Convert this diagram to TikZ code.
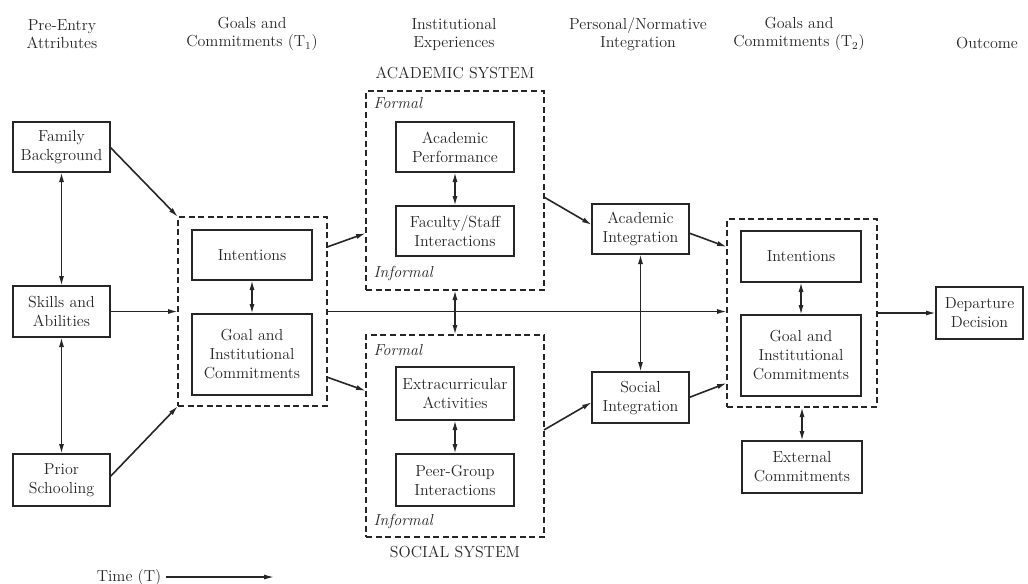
\documentclass[tikz,border=0pt]{standalone}
\usetikzlibrary{arrows.meta,calc}
\definecolor{ink}{HTML}{262626}
\begin{document}
\begin{tikzpicture}[x=0.75pt,y=-0.75pt,
  every node/.style={font=\fontsize{12}{14.25}\selectfont, text=ink},
  bx/.style 2 args={draw=ink, line width=1.3pt, rectangle, inner sep=0pt, outer sep=0pt, align=center, minimum width=#1*0.75pt, minimum height=#2*0.75pt},
  dbx/.style 2 args={bx={#1}{#2}, line width=1.2pt, dash pattern=on 4.5pt off 2.7pt},
  arr/.style={draw=ink, line width=1.2pt, -{Latex[length=7.5pt,width=3.8pt]}},
  darr/.style={draw=ink, line width=1.2pt, {Latex[length=7.5pt,width=3.8pt]}-{Latex[length=7.5pt,width=3.8pt]}},
  hdr/.style={align=center, font=\fontsize{12}{13.5}\selectfont},
  lbl/.style={anchor=west, font=\fontsize{12}{14}\selectfont\itshape},
  sys/.style={font=\fontsize{12}{14}\selectfont}]
\useasboundingbox (0,0) rectangle (1028,583);

% headers
\node[hdr] (h1) at (62,34) {Pre-Entry\\Attributes};
\node[hdr] (h2) at (252,34) {Goals and\\Commitments (T$_1$)};
\node[hdr] (h3) at (454,34) {Institutional\\Experiences};
\node[hdr] (h4) at (638,34) {Personal/Normative\\Integration};
\node[hdr] (h5) at (799,34) {Goals and\\Commitments (T$_2$)};
\node[hdr] (h6) at (987,43) {Outcome};

% pre-entry
\node[bx={97}{50}] (fam) at (61.5,147) {Family\\Background};
\node[bx={97}{51}] (skl) at (61.5,311.5) {Skills and\\Abilities};
\node[bx={97}{52}] (pri) at (61.5,480) {Prior\\Schooling};

% T1
\node[dbx={149}{189}] (t1) at (252.5,311.5) {};
\node[bx={120}{50}] (t1i) at (252,255) {Intentions};
\node[bx={120}{81}] (t1g) at (252,354.5) {Goal and\\Institutional\\Commitments};

% academic system
\node[sys] (acl) at (455,73) {ACADEMIC SYSTEM};
\node[dbx={178}{199}] (acs) at (455,190.5) {};
\node[lbl] (af) at (369,103) {Formal};
\node[lbl] (ainf) at (369,273) {Informal};
\node[bx={118}{50}] (ap) at (455,147) {Academic\\Performance};
\node[bx={118}{50}] (fs) at (455,231) {Faculty/Staff\\Interactions};

% social system
\node[dbx={178}{202}] (sos) at (455,436) {};
\node[lbl] (sf) at (369,350) {Formal};
\node[lbl] (sinf) at (369,521) {Informal};
\node[bx={118}{53}] (ex) at (455,393.5) {Extracurricular\\Activities};
\node[bx={118}{52}] (pg) at (455,480) {Peer-Group\\Interactions};
\node[sys] (scl) at (455,552) {SOCIAL SYSTEM};

% integration
\node[bx={97}{50}] (ai) at (640.5,229) {Academic\\Integration};
\node[bx={97}{51}] (si) at (640.5,397.5) {Social\\Integration};

% T2
\node[dbx={150}{188}] (t2) at (802,313) {};
\node[bx={120}{51}] (t2i) at (801,256.5) {Intentions};
\node[bx={120}{81}] (t2g) at (801,355.5) {Goal and\\Institutional\\Commitments};
\node[bx={120}{52}] (ext) at (802,467) {External\\Commitments};

% outcome
\node[bx={87}{52}] (dep) at (979.5,313) {Departure\\Decision};

% time
\node (time) at (129,577) {Time (T)};
\coordinate (tend) at (274,577);

% connectors
\draw[arr] (fam.east) -- (t1.north west);
\draw[arr] (skl.east) -- (skl.east -| t1.west);
\draw[arr] ($(pri.north east)!0.44!(pri.south east)$) -- (t1.south west);
\draw[darr] (fam.south) -- (skl.north);
\draw[darr] (skl.south) -- (pri.north);
\draw[darr] (t1i.south) -- (t1g.north);

\draw[arr] ($(t1.north east)!0.159!(t1.south east)$) -- ($(acs.north west)!0.714!(acs.south west)$);
\draw[arr] ($(t1.north east)!0.847!(t1.south east)$) -- ($(sos.north west)!0.277!(sos.south west)$);
\draw[arr] (t1.east) -- (t1.east -| t2.west);

\draw[darr] (ap.south) -- (fs.north);
\draw[darr] (ex.south) -- (pg.north);
\draw[darr] (acs.south) -- (sos.north);

\draw[arr] ($(acs.north east)!0.533!(acs.south east)$) -- ($(ai.north west)!0.42!(ai.south west)$);
\draw[arr] ($(sos.north east)!0.47!(sos.south east)$) -- ($(si.north west)!0.59!(si.south west)$);
\draw[darr] (ai.south) -- (si.north);

\draw[arr] ($(ai.north east)!0.58!(ai.south east)$) -- ($(t2.north west)!0.149!(t2.south west)$);
\draw[arr] (si.east) -- ($(t2.north west)!0.872!(t2.south west)$);
\draw[darr] (t2i.south) -- (t2g.north);
\draw[darr] (t2.south) -- (ext.north);
\draw[arr] (t2.east) -- (dep.west);

\draw[arr, line width=1pt] (time.east) -- (tend);
\end{tikzpicture}
\end{document}
